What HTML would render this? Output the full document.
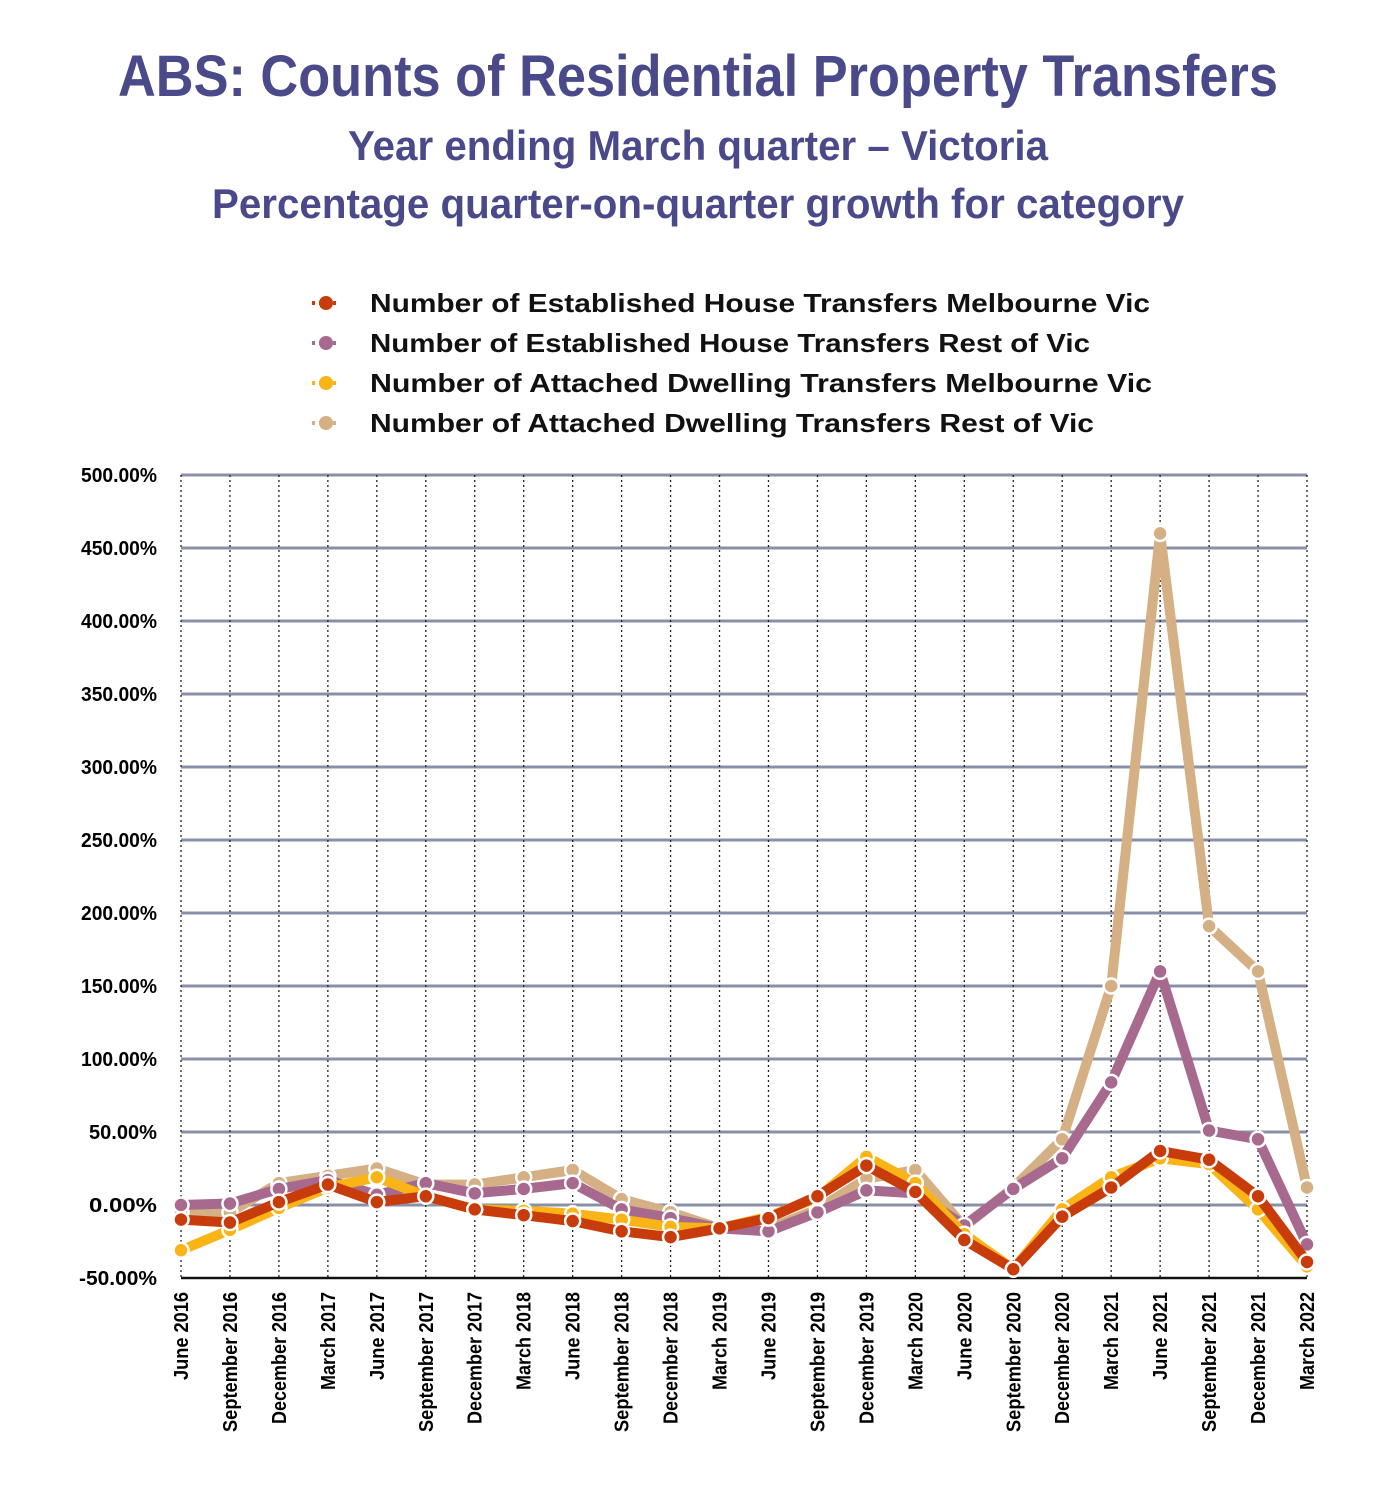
<!DOCTYPE html>
<html><head><meta charset="utf-8"><style>
html,body{margin:0;padding:0;background:#fff;}
svg text{font-family:"Liberation Sans",sans-serif;font-weight:bold;}
</style></head><body>
<svg id="s" width="1400" height="1500" xmlns="http://www.w3.org/2000/svg">
<text x="698" y="96" text-anchor="middle" fill="#4a4a8a" font-size="58" textLength="1160" lengthAdjust="spacingAndGlyphs">ABS: Counts of Residential Property Transfers</text>
<text x="698" y="160" text-anchor="middle" fill="#4a4a8a" font-size="42" textLength="700" lengthAdjust="spacingAndGlyphs">Year ending March quarter – Victoria</text>
<text x="698" y="218" text-anchor="middle" fill="#4a4a8a" font-size="42" textLength="972" lengthAdjust="spacingAndGlyphs">Percentage quarter-on-quarter growth for category</text>
<g id="g"></g>
</svg>
<script>
var s=document.getElementById('g'),h='';
var X0=181,DX=(1307-181)/23,Y0=1205,K=1.46;
function y(v){return Y0-v*K;}
for(var v=-50;v<=500;v+=50){
 var yy=y(v);
 if(v>-50)h+='<line x1="181" x2="1307" y1="'+yy+'" y2="'+yy+'" stroke="#8a8fa8" stroke-width="3"/>';
 h+='<text x="157" y="'+(yy+7)+'" text-anchor="end" font-size="20" textLength="'+(v<0?78:(v<100?68:76))+'" lengthAdjust="spacingAndGlyphs">'+v.toFixed(2)+'%</text>';
}
var labs=["June 2016","September 2016","December 2016","March 2017","June 2017","September 2017","December 2017","March 2018","June 2018","September 2018","December 2018","March 2019","June 2019","September 2019","December 2019","March 2020","June 2020","September 2020","December 2020","March 2021","June 2021","September 2021","December 2021","March 2022"];
var LEN={June:88,September:140,December:132,March:98};
for(var i=0;i<24;i++){
 var x=X0+i*DX;
 h+='<line x1="'+x+'" x2="'+x+'" y1="475" y2="1278" stroke="#222" stroke-width="1.3" stroke-dasharray="2,3"/>';
 h+='<text transform="translate('+(x+7)+',1292) rotate(-90)" text-anchor="end" font-size="20" textLength="'+LEN[labs[i].split(' ')[0]]+'" lengthAdjust="spacingAndGlyphs">'+labs[i]+'</text>';
}
h+='<line x1="181" x2="1307" y1="1278" y2="1278" stroke="#111" stroke-width="2.5"/>';
var S=[
 ["#d4b084",[-5,-5,15,20,25,14,14,19,24,4,-5,-16,-16,-3,18,24,-15,12,45,150,460,191,160,12]],
 ["#a8698f",[0,1,11,17,7,15,8,11,15,-3,-9,-16,-18,-5,10,8,-14,11,32,84,160,51,45,-27]],
 ["#fbb416",[-31,-17,-2,12,19,6,-3,-4,-6,-10,-15,-16,-8,5,33,15,-20,-44,-3,19,32,28,-3,-42]],
 ["#c83c0c",[-10,-12,2,14,2,6,-3,-7,-11,-18,-22,-16,-9,6,27,9,-24,-44,-8,12,37,31,6,-39]]
];
S.forEach(function(se){
 var pts=se[1].map(function(v,i){return (X0+i*DX).toFixed(1)+','+y(v).toFixed(1);});
 h+='<polyline points="'+pts.join(' ')+'" fill="none" stroke="'+se[0]+'" stroke-width="10" stroke-linejoin="round"/>';
 se[1].forEach(function(v,i){h+='<circle cx="'+(X0+i*DX)+'" cy="'+y(v)+'" r="7.5" fill="'+se[0]+'" stroke="#fff" stroke-width="2.5"/>';});
});
var L=[["#c83c0c","Number of Established House Transfers Melbourne Vic"],["#a8698f","Number of Established House Transfers Rest of Vic"],["#fbb416","Number of Attached Dwelling Transfers Melbourne Vic"],["#d4b084","Number of Attached Dwelling Transfers Rest of Vic"]];
var TL=[780,720,782,724];
L.forEach(function(l,i){
 var yy=303+i*40;
 h+='<line x1="312" x2="340" y1="'+yy+'" y2="'+yy+'" stroke="'+l[0]+'" stroke-width="4" stroke-dasharray="3,4"/>';
 h+='<circle cx="326" cy="'+yy+'" r="7" fill="'+l[0]+'"/>';
 h+='<text x="370" y="'+(yy+9)+'" font-size="26" textLength="'+TL[i]+'" lengthAdjust="spacingAndGlyphs" fill="#111">'+l[1]+'</text>';
});
s.innerHTML=h;
</script>
</body></html>
